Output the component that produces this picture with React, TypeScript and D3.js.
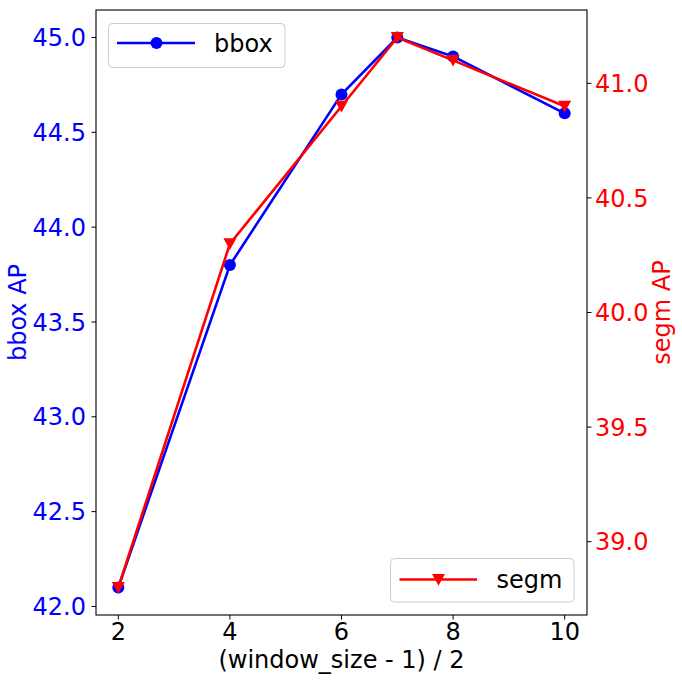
import React from "react";
import * as d3 from "d3";

const xs = [2, 4, 6, 7, 8, 10];
const bboxAP = [42.1, 43.8, 44.7, 45.0, 44.9, 44.6];
const segmAP = [38.8, 40.3, 40.9, 41.2, 41.1, 40.9];
const xTicks = [2, 4, 6, 8, 10];
const leftTicks = [42.0, 42.5, 43.0, 43.5, 44.0, 44.5, 45.0];
const rightTicks = [39.0, 39.5, 40.0, 40.5, 41.0];

const W = 682, H = 682;
const L = 96, R = 587, T = 10, B = 615;
const FONT = "DejaVu Sans, sans-serif";
const BLUE = "#0000ff", RED = "#ff0000";

function pad(ext: number[]) {
  const d = (ext[1] - ext[0]) * 0.05;
  return [ext[0] - d, ext[1] + d];
}

export default function App() {
  const x = d3.scaleLinear().domain(pad(d3.extent(xs) as number[])).range([L, R]);
  const yL = d3.scaleLinear().domain(pad(d3.extent(bboxAP) as number[])).range([B, T]);
  const yR = d3.scaleLinear().domain(pad(d3.extent(segmAP) as number[])).range([B, T]);
  const lineL = d3.line<number>().x((_, i) => x(xs[i])).y((d) => yL(d));
  const lineR = d3.line<number>().x((_, i) => x(xs[i])).y((d) => yR(d));
  const tri = (cx: number, cy: number, s = 6.5) =>
    `M${cx - s},${cy - s * 0.85}L${cx + s},${cy - s * 0.85}L${cx},${cy + s * 0.95}Z`;

  return (
    <svg width={W} height={H} style={{ position: "fixed", left: 0, top: 0, background: "#fff" }} fontFamily={FONT}>
      <rect x={0} y={0} width={W} height={H} fill="#fff" />
      {/* data */}
      <path d={lineL(bboxAP) || ""} fill="none" stroke={BLUE} strokeWidth={2.6} strokeLinejoin="round" />
      {bboxAP.map((v, i) => (
        <circle key={"b" + i} cx={x(xs[i])} cy={yL(v)} r={6} fill={BLUE} />
      ))}
      <path d={lineR(segmAP) || ""} fill="none" stroke={RED} strokeWidth={2.6} strokeLinejoin="round" />
      {segmAP.map((v, i) => (
        <path key={"s" + i} d={tri(x(xs[i]), yR(v))} fill={RED} />
      ))}
      {/* frame */}
      <rect x={L} y={T} width={R - L} height={B - T} fill="none" stroke="#000" strokeWidth={1.1} />
      {/* x ticks */}
      {xTicks.map((t) => (
        <g key={"x" + t}>
          <line x1={x(t)} x2={x(t)} y1={B} y2={B + 4.5} stroke="#000" strokeWidth={1} />
          <text x={x(t)} y={640} textAnchor="middle" fontSize={24} fill="#000">{t}</text>
        </g>
      ))}
      {/* left ticks */}
      {leftTicks.map((t) => (
        <g key={"l" + t}>
          <line x1={L - 4.5} x2={L} y1={yL(t)} y2={yL(t)} stroke="#000" strokeWidth={1} />
          <text x={L - 10} y={yL(t)} dy="0.36em" textAnchor="end" fontSize={24} fill={BLUE}>{t.toFixed(1)}</text>
        </g>
      ))}
      {/* right ticks */}
      {rightTicks.map((t) => (
        <g key={"r" + t}>
          <line x1={R} x2={R + 4.5} y1={yR(t)} y2={yR(t)} stroke="#000" strokeWidth={1} />
          <text x={R + 8} y={yR(t)} dy="0.36em" textAnchor="start" fontSize={24} fill={RED}>{t.toFixed(1)}</text>
        </g>
      ))}
      {/* axis labels */}
      <text x={(L + R) / 2} y={668} textAnchor="middle" fontSize={24} fill="#000">(window_size - 1) / 2</text>
      <text transform={`translate(26,${(T + B) / 2}) rotate(-90)`} textAnchor="middle" fontSize={24} fill={BLUE}>bbox AP</text>
      <text transform={`translate(670,${(T + B) / 2}) rotate(-90)`} textAnchor="middle" fontSize={24} fill={RED}>segm AP</text>
      {/* legend bbox */}
      <rect x={108.5} y={23.5} width={176.5} height={44} rx={4} fill="#fff" fillOpacity={0.8} stroke="#cccccc" strokeWidth={1} />
      <line x1={117} x2={195} y1={43} y2={43} stroke={BLUE} strokeWidth={2.6} />
      <circle cx={156.5} cy={43} r={6} fill={BLUE} />
      <text x={214} y={43} dy="0.36em" fontSize={24} fill="#000">bbox</text>
      {/* legend segm */}
      <rect x={390.5} y={558.5} width={183.5} height={43.5} rx={4} fill="#fff" fillOpacity={0.8} stroke="#cccccc" strokeWidth={1} />
      <line x1={399.5} x2={477} y1={579.5} y2={579.5} stroke={RED} strokeWidth={2.6} />
      <path d={tri(438.5, 579.5)} fill={RED} />
      <text x={496.5} y={579.5} dy="0.36em" fontSize={24} fill="#000">segm</text>
    </svg>
  );
}
